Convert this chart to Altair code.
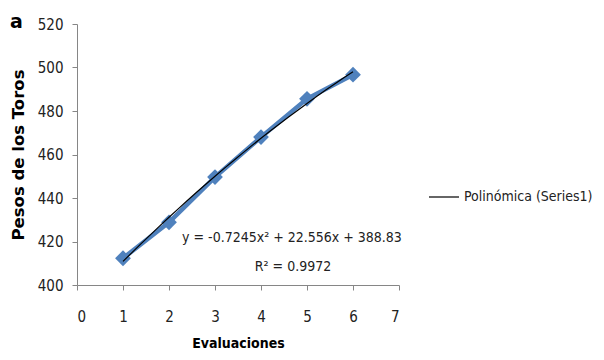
import altair as alt
import pandas as pd

evaluaciones = [1, 2, 3, 4, 5, 6]
pesos = [412.3, 428.8, 449.6, 468.0, 485.6, 496.7]
equation_lines = ["y = -0.7245x² + 22.556x + 388.83", "R² = 0.9972"]
trend_name = "Polinómica (Series1)"
x_ticks = [0, 1, 2, 3, 4, 5, 6, 7]
y_ticks = [400, 420, 440, 460, 480, 500, 520]
panel_label = "a"

df = pd.DataFrame({"x": evaluaciones, "y": pesos})

BLUE = "#4F81BD"
AXIS_GREY = "#868686"
NARROW = "DejaVu Sans Condensed, Liberation Sans Narrow, sans-serif"

x_enc = alt.X("x:Q", scale=alt.Scale(domain=[0, 7], nice=False),
              axis=alt.Axis(values=x_ticks, title="Evaluaciones", format="d",
                            titleFont=NARROW, titleFontSize=14, titleFontWeight="bold",
                            titlePadding=12))
y_enc = alt.Y("y:Q", scale=alt.Scale(domain=[400, 520], nice=False, zero=False),
              axis=alt.Axis(values=y_ticks, title="Pesos de los Toros",
                            titleFont="DejaVu Sans", titleFontSize=16.5, titleFontWeight="bold",
                            titlePadding=11))

base = alt.Chart(df)

data_line = base.mark_line(color=BLUE, strokeWidth=4.5).encode(x=x_enc, y=y_enc)
data_pts = base.mark_point(shape="diamond", filled=True, size=250, color=BLUE, opacity=1).encode(x="x:Q", y="y:Q")

trend = base.transform_regression("x", "y", method="poly", order=2).transform_calculate(
    serie=f'"{trend_name}"'
).mark_line(strokeWidth=1.2).encode(
    x="x:Q", y="y:Q",
    color=alt.Color("serie:N", scale=alt.Scale(domain=[trend_name], range=["#000000"]),
                    legend=alt.Legend(title=None, orient="none", legendX=351, legendY=157,
                                      symbolType="stroke", symbolSize=900, symbolStrokeWidth=1.2,
                                      labelFont=NARROW, labelFontSize=14, labelColor="#222",
                                      labelOffset=4, labelLimit=300))
)

eq1 = alt.Chart(pd.DataFrame({"t": [equation_lines[0]]})).mark_text(
    font=NARROW, fontSize=14, color="#222", baseline="middle", align="center"
).encode(text="t:N", x=alt.value(215), y=alt.value(214))
eq2 = alt.Chart(pd.DataFrame({"t": [equation_lines[1]]})).mark_text(
    font=NARROW, fontSize=14, color="#222", baseline="middle", align="center"
).encode(text="t:N", x=alt.value(216), y=alt.value(243))
lab = alt.Chart(pd.DataFrame({"t": [panel_label]})).mark_text(
    font="DejaVu Sans", fontSize=19, fontWeight="bold", color="#000", baseline="middle", align="left"
).encode(text="t:N", x=alt.value(-67), y=alt.value(-2))

chart = alt.layer(data_line, data_pts, trend, eq1, eq2, lab).properties(
    width=322, height=261,
    autosize=alt.AutoSizeParams(type="none"),
    padding={"left": 69, "top": 16, "right": 197, "bottom": 66},
).configure_view(stroke=None).configure_axis(
    grid=False, domainColor=AXIS_GREY, tickColor=AXIS_GREY, tickSize=5,
    labelFont=NARROW, labelFontSize=15, labelColor="#222", titleColor="#000",
    labelPadding=9,
).configure_axisX(labelPadding=19)

chart.save("out.html", embed_options={"renderer": "svg", "actions": False})
